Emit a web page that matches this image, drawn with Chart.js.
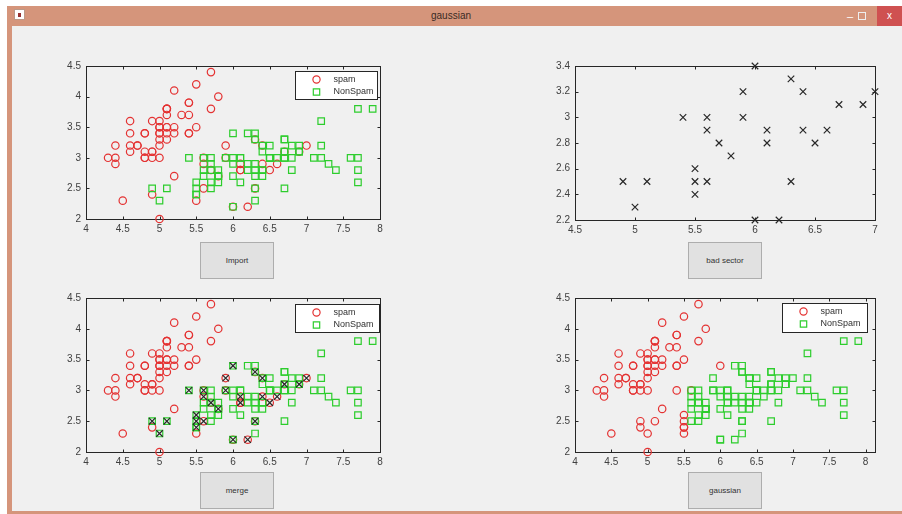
<!DOCTYPE html>
<html><head><meta charset="utf-8">
<script src="https://cdn.jsdelivr.net/npm/chart.js@4/dist/chart.umd.min.js"></script>
<style>
html,body{margin:0;padding:0;background:#fff;width:902px;height:514px;overflow:hidden;font-family:"Liberation Sans",Arial,sans-serif;}
.abs{position:absolute;}
#tb{left:7px;top:6px;width:895px;height:20px;background:#d5957b;}
#lb{left:7px;top:6px;width:5px;height:508px;background:#d5957b;}
#bb{left:7px;top:511px;width:895px;height:3px;background:#d5957b;}
#content{left:12px;top:26px;width:890px;height:485px;background:#f0f0f0;}
#title{left:0;top:6px;width:902px;height:20px;line-height:20px;text-align:center;font-size:10px;color:#3a2a24;}
#icon{left:14px;top:9px;width:9px;height:9px;background:#fff;border:1px solid #b98;}
#icon span{position:absolute;left:3px;top:3px;width:3px;height:4px;background:#933;}
#min{left:845px;top:6px;width:10px;height:20px;line-height:20px;color:#fff;font-size:11px;text-align:center;}
#max{left:858px;top:12px;width:6px;height:6px;border:1px solid #eee;}
#close{left:877px;top:6px;width:25px;height:20px;background:#cf5151;color:#fff;font-size:10px;line-height:19px;text-align:center;}
.btn{background:#e1e1e1;border:1px solid #adadad;box-sizing:border-box;text-align:center;font-size:8px;color:#333;width:74px;height:37px;line-height:35px;}
canvas{position:absolute;}
</style></head>
<body>
<div id="tb" class="abs"></div>
<div id="lb" class="abs"></div>
<div id="bb" class="abs"></div>
<div id="content" class="abs"></div>
<div id="icon" class="abs"><span></span></div>
<div id="title" class="abs">gaussian</div>
<div id="min" class="abs">–</div>
<div id="max" class="abs"></div>
<div id="close" class="abs">x</div>
<div class="abs btn" style="left:200px;top:242px;">Import</div>
<div class="abs btn" style="left:688px;top:242px;">bad sector</div>
<div class="abs btn" style="left:200px;top:472px;">merge</div>
<div class="abs btn" style="left:688px;top:472px;">gaussian</div>
<script>
// ---------- DATA ----------
const spamX = [5.1,4.9,4.7,4.6,5.0,5.4,4.6,5.0,4.4,4.9,5.4,4.8,4.8,4.3,5.8,5.7,5.4,5.1,5.7,5.1,5.4,5.1,4.6,5.1,4.8,5.0,5.0,5.2,5.2,4.7,4.8,5.4,5.2,5.5,4.9,5.0,5.5,4.9,4.4,5.1,5.0,4.5,4.4,5.0,5.1,4.8,5.1,4.6,5.3,5.0,
  7.0,6.4,6.9,5.5,6.5,5.7,6.3,4.9,6.6,5.2,5.0,5.9,6.0,6.1,5.6,6.7,5.6,5.8,6.2,5.6,5.9,6.1,6.3,6.1,6.4];
const spamY = [3.5,3.0,3.2,3.1,3.6,3.9,3.4,3.4,2.9,3.1,3.7,3.4,3.0,3.0,4.0,4.4,3.9,3.5,3.8,3.8,3.4,3.7,3.6,3.3,3.4,3.0,3.4,3.5,3.4,3.2,3.1,3.4,4.1,4.2,3.1,3.2,3.5,3.6,3.0,3.4,3.5,2.3,3.2,3.5,3.8,3.0,3.8,3.2,3.7,3.3,
  3.2,3.2,3.1,2.3,2.8,2.8,3.3,2.4,2.9,2.7,2.0,3.0,2.2,2.9,2.9,3.1,3.0,2.7,2.2,2.5,3.2,2.8,2.5,2.8,2.9];
const nonSpamX = [6.6,6.8,6.7,6.0,5.7,5.5,5.5,5.8,6.0,5.4,6.0,6.7,6.3,5.6,5.5,5.5,6.1,5.8,5.0,5.6,5.7,5.7,6.2,5.1,5.7,
  6.3,5.8,7.1,6.3,6.5,7.6,4.9,7.3,6.7,7.2,6.5,6.4,6.8,5.7,5.8,6.4,6.5,7.7,7.7,6.0,6.9,5.6,7.7,6.3,6.7,7.2,6.2,6.1,6.4,7.2,7.4,7.9,6.4,6.3,6.1,7.7,6.3,6.4,6.0,6.9,6.7,6.9,5.8,6.8,6.7,6.7,6.3,6.5,6.2,5.9];
const nonSpamY = [3.0,2.8,3.0,2.9,2.6,2.4,2.4,2.7,2.7,3.0,3.4,3.1,2.3,3.0,2.5,2.6,3.0,2.6,2.3,2.7,3.0,2.9,2.9,2.5,2.8,
  3.3,2.7,3.0,2.9,3.0,3.0,2.5,2.9,2.5,3.6,3.2,2.7,3.0,2.5,2.8,3.2,3.0,3.8,2.6,2.2,3.2,2.8,2.8,2.7,3.3,3.2,2.8,3.0,2.8,3.0,2.8,3.8,2.8,2.8,2.6,3.0,3.4,3.1,3.0,3.1,3.1,3.1,2.7,3.2,3.3,3.0,2.5,3.0,3.4,3.0];
const badX = [4.9,5.1,5.0,5.4,5.5,5.5,5.5,5.6,5.6,5.6,5.7,5.8,5.9,5.9,6.0,6.0,6.1,6.1,6.2,6.3,6.3,6.4,6.4,6.5,6.6,6.7,6.9,7.0];
const badY = [2.5,2.5,2.3,3.0,2.6,2.5,2.4,3.0,2.9,2.5,2.8,2.7,3.2,3.0,3.4,2.2,2.9,2.8,2.2,3.3,2.5,3.2,2.9,2.8,2.9,3.1,3.1,3.2];
const gaussSpamX = [5.1,4.9,4.7,4.6,5.0,5.4,4.6,5.0,4.4,4.9,5.4,4.8,4.8,4.3,5.8,5.7,5.4,5.1,5.7,5.1,5.4,5.1,4.6,5.1,4.8,5.0,5.0,5.2,5.2,4.7,4.8,5.4,5.2,5.5,4.9,5.0,5.5,4.9,4.4,5.1,5.0,4.5,4.4,5.0,5.1,4.8,5.1,4.6,5.3,5.0,
  5.5,4.9,5.2,5.0,5.6,5.5,5.5,5.4,6.0,5.5,5.5,5.0,5.1,4.9];
const gaussSpamY = [3.5,3.0,3.2,3.1,3.6,3.9,3.4,3.4,2.9,3.1,3.7,3.4,3.0,3.0,4.0,4.4,3.9,3.5,3.8,3.8,3.4,3.7,3.6,3.3,3.4,3.0,3.4,3.5,3.4,3.2,3.1,3.4,4.1,4.2,3.1,3.2,3.5,3.6,3.0,3.4,3.5,2.3,3.2,3.5,3.8,3.0,3.8,3.2,3.7,3.3,
  2.3,2.4,2.7,2.0,3.0,2.4,2.4,3.0,3.4,2.5,2.6,2.3,2.5,2.5];
const gaussNonSpamX = [7.0,6.4,6.9,6.5,5.7,6.3,6.6,5.9,6.0,6.1,5.6,6.7,5.6,5.8,6.2,5.6,5.9,6.1,6.3,6.1,6.4,6.6,6.8,6.7,6.0,5.7,5.8,6.0,6.7,6.3,6.1,5.8,5.6,5.7,5.7,6.2,5.7,
  6.3,5.8,7.1,6.3,6.5,7.6,7.3,6.7,7.2,6.5,6.4,6.8,5.7,5.8,6.4,6.5,7.7,7.7,6.0,6.9,5.6,7.7,6.3,6.7,7.2,6.2,6.1,6.4,7.2,7.4,7.9,6.4,6.3,6.1,7.7,6.3,6.4,6.0,6.9,6.7,6.9,5.8,6.8,6.7,6.7,6.3,6.5,6.2,5.9];
const gaussNonSpamY = [3.2,3.2,3.1,2.8,2.8,3.3,2.9,3.0,2.2,2.9,2.9,3.1,3.0,2.7,2.2,2.5,3.2,2.8,2.5,2.8,2.9,3.0,2.8,3.0,2.9,2.6,2.7,2.7,3.1,2.3,3.0,2.6,2.7,3.0,2.9,2.9,2.8,
  3.3,2.7,3.0,2.9,3.0,3.0,2.9,2.5,3.6,3.2,2.7,3.0,2.5,2.8,3.2,3.0,3.8,2.6,2.2,3.2,2.8,2.8,2.7,3.3,3.2,2.8,3.0,2.8,3.0,2.8,3.8,2.8,2.8,2.6,3.0,3.4,3.1,3.0,3.1,3.1,3.1,2.7,3.2,3.3,3.0,2.5,3.0,3.4,3.0];
const xTicksFull = [4,4.5,5,5.5,6,6.5,7,7.5,8];
const yTicksFull = [2,2.5,3,3.5,4,4.5];
const xTicksBad = [4.5,5,5.5,6,6.5,7];
const yTicksBad = [2.2,2.4,2.6,2.8,3,3.2,3.4];
const legendLabels = ['spam','NonSpam'];

// ---------- STYLE ----------
const RED = 'rgb(228,50,50)', GREEN = 'rgb(45,205,45)', DARK = 'rgb(40,40,40)';
const pts = (xs, ys) => xs.map((v,i)=>({x:v, y:ys[i]}));
function ds(xs, ys, style, color, order){
  const r = style==='circle' ? 3.7 : 4.6;
  return {data:pts(xs,ys), pointStyle:style, pointRadius:r, pointHoverRadius:r,
    pointBorderColor:color, borderColor:color, pointBackgroundColor:'rgba(0,0,0,0)',
    backgroundColor:'rgba(0,0,0,0)', pointBorderWidth:1.2, showLine:false, clip:false, order:order};
}
function drawMarker(ctx, style, color, x, y){
  ctx.save(); ctx.strokeStyle=color; ctx.lineWidth=1.2; ctx.beginPath();
  if(style==='circle'){ ctx.arc(x,y,3.6,0,Math.PI*2); }
  else if(style==='rect'){ ctx.rect(x-3.2,y-3.2,6.4,6.4); }
  else { ctx.moveTo(x-3.3,y-3.3); ctx.lineTo(x+3.3,y+3.3); ctx.moveTo(x+3.3,y-3.3); ctx.lineTo(x-3.3,y+3.3); }
  ctx.stroke(); ctx.restore();
}
const boxPlugin = {
  id:'mbox',
  beforeDatasetsDraw(chart){
    const {ctx, chartArea:a, scales:{x,y}} = chart;
    ctx.save(); ctx.strokeStyle='#262626'; ctx.lineWidth=1;
    const L=Math.round(a.left)+0.5, T=Math.round(a.top)+0.5, R=Math.round(a.right)+0.5, B=Math.round(a.bottom)+0.5;
    ctx.strokeRect(L,T,R-L,B-T);
    ctx.beginPath();
    x.ticks.forEach(t=>{const p=Math.round(x.getPixelForValue(t.value))+0.5; ctx.moveTo(p,B); ctx.lineTo(p,B-3); ctx.moveTo(p,T); ctx.lineTo(p,T+3);});
    y.ticks.forEach(t=>{const p=Math.round(y.getPixelForValue(t.value))+0.5; ctx.moveTo(L,p); ctx.lineTo(L+3,p); ctx.moveTo(R,p); ctx.lineTo(R-3,p);});
    ctx.stroke(); ctx.restore();
  }
};
function legendPlugin(cfg){
  return {id:'mleg', afterDraw(chart){
    const {ctx, chartArea:a} = chart;
    const bx = Math.round(a.right - cfg.right - cfg.w)+0.5, by = Math.round(a.top + cfg.top)+0.5;
    ctx.save();
    ctx.fillStyle='#fff'; ctx.fillRect(bx,by,cfg.w,cfg.h);
    ctx.strokeStyle='#262626'; ctx.lineWidth=1; ctx.strokeRect(bx,by,cfg.w,cfg.h);
    ctx.font='9px "Liberation Sans", Arial, sans-serif'; ctx.fillStyle='#303030'; ctx.textBaseline='middle';
    cfg.items.forEach((it,i)=>{
      const yy = by + 8 + i*12.5;
      drawMarker(ctx, it.style, it.color, bx + 21, yy);
      ctx.fillText(it.label, bx + 38, yy);
    });
    ctx.restore();
  }};
}
function makeChart(rect, xr, xt, yr, yt, datasets, legend){
  const c = document.createElement('canvas');
  const W = rect.r - rect.l + 50, H = rect.b - rect.t + 35;
  c.width = W; c.height = H;
  c.style.left = (rect.l - 40) + 'px'; c.style.top = (rect.t - 10) + 'px';
  c.style.width = W + 'px'; c.style.height = H + 'px';
  document.body.appendChild(c);
  const fmt = v => String(Math.round(v*10)/10);
  const tickFont = {family:'"Liberation Sans", Arial, sans-serif', size:10};
  const plugins = [boxPlugin];
  if(legend) plugins.push(legendPlugin(legend));
  new Chart(c, {
    type:'scatter',
    data:{datasets},
    options:{
      responsive:false, animation:false, events:[], devicePixelRatio:1,
      layout:{padding:{left:0, top:10, right:10, bottom:0}},
      plugins:{legend:{display:false}, tooltip:{enabled:false}},
      scales:{
        x:{type:'linear', min:xr[0], max:xr[1],
          afterBuildTicks:s=>{s.ticks = xt.map(v=>({value:v}));},
          afterFit:s=>{s.height = 25;},
          grid:{display:false, drawTicks:false}, border:{display:false},
          ticks:{callback:fmt, font:tickFont, color:'#404040', padding:4, maxRotation:0, autoSkip:false}},
        y:{type:'linear', min:yr[0], max:yr[1],
          afterBuildTicks:s=>{s.ticks = yt.map(v=>({value:v}));},
          afterFit:s=>{s.width = 40;},
          grid:{display:false, drawTicks:false}, border:{display:false},
          ticks:{callback:fmt, font:tickFont, color:'#404040', padding:5, autoSkip:false}}
      }
    },
    plugins
  });
}
const legItems = [{label:legendLabels[0], style:'circle', color:RED},{label:legendLabels[1], style:'rect', color:GREEN}];

// import
makeChart({l:86,t:65,r:380,b:219}, [4,8], xTicksFull, [2,4.5], yTicksFull,
  [ds(spamX,spamY,'circle',RED,2), ds(nonSpamX,nonSpamY,'rect',GREEN,1)],
  {items:legItems, right:3, top:5, w:82, h:28});
// bad sector
makeChart({l:575,t:65,r:875,b:220}, [4.5,7], xTicksBad, [2.2,3.4], yTicksBad,
  [ds(badX,badY,'crossRot',DARK,1)], null);
// merge
makeChart({l:86,t:297,r:380,b:452}, [4,8], xTicksFull, [2,4.5], yTicksFull,
  [ds(spamX,spamY,'circle',RED,3), ds(nonSpamX,nonSpamY,'rect',GREEN,2), ds(badX,badY,'crossRot',DARK,1)],
  {items:legItems, right:1, top:6, w:84, h:28});
// gaussian
makeChart({l:575,t:297,r:875,b:452}, [4,8.13], xTicksFull, [2,4.5], yTicksFull,
  [ds(gaussSpamX,gaussSpamY,'circle',RED,2), ds(gaussNonSpamX,gaussNonSpamY,'rect',GREEN,1)],
  {items:legItems, right:8, top:5, w:85, h:29});
</script>
</body></html>
